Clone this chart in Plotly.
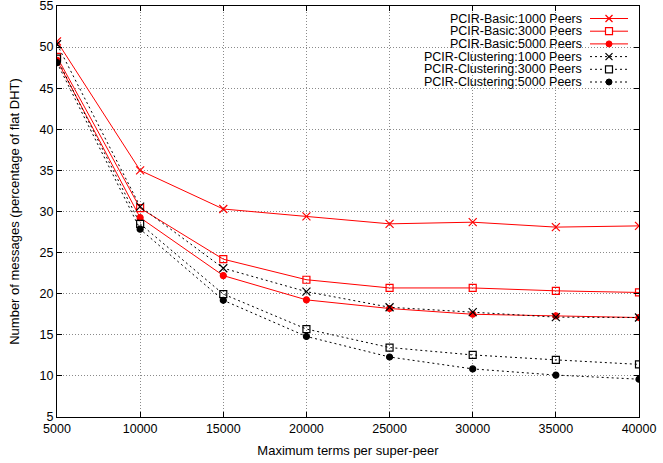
import plotly.graph_objects as go

x_terms = [5000, 10000, 15000, 20000, 25000, 30000, 35000, 40000]

basic_1000 = [50.7, 35.0, 30.3, 29.4, 28.5, 28.7, 28.1, 28.25]
basic_3000 = [48.8, 30.4, 24.2, 21.7, 20.7, 20.7, 20.35, 20.15]
basic_5000 = [48.4, 29.25, 22.2, 19.25, 18.2, 17.5, 17.3, 17.1]
clust_1000 = [50.35, 30.6, 23.1, 20.25, 18.35, 17.75, 17.15, 17.1]
clust_3000 = [48.6, 28.5, 19.95, 15.7, 13.45, 12.55, 11.95, 11.4]
clust_5000 = [48.1, 27.85, 19.2, 14.8, 12.3, 10.85, 10.1, 9.6]

series_names = [
    "PCIR-Basic:1000 Peers",
    "PCIR-Basic:3000 Peers",
    "PCIR-Basic:5000 Peers",
    "PCIR-Clustering:1000 Peers",
    "PCIR-Clustering:3000 Peers",
    "PCIR-Clustering:5000 Peers",
]
series_values = [basic_1000, basic_3000, basic_5000, clust_1000, clust_3000, clust_5000]
series_colors = ["#ff0000", "#ff0000", "#ff0000", "#000000", "#000000", "#000000"]
series_dash = ["solid", "solid", "solid", "2px,3px", "2px,3px", "2px,3px"]
series_symbol = ["x-thin-open", "square-open", "circle", "x-thin-open", "square-open", "circle"]
series_msize = [8, 7, 6, 8, 7, 6]

x_ticks = [5000, 10000, 15000, 20000, 25000, 30000, 35000, 40000]
y_ticks = [5, 10, 15, 20, 25, 30, 35, 40, 45, 50, 55]

FONT = "Liberation Sans, Arial, Helvetica, sans-serif"

fig = go.Figure()
for name, vals, col, dash, sym, ms in zip(series_names, series_values, series_colors,
                                          series_dash, series_symbol, series_msize):
    fig.add_trace(go.Scatter(
        x=x_terms, y=vals, name=name, mode="lines+markers",
        line=dict(color=col, width=1, dash=dash),
        marker=dict(symbol=sym, size=ms, color=col,
                    line=dict(color=col, width=1.2)),
        showlegend=False, hoverinfo="skip",
    ))

# plot area geometry in pixels (for the hand-drawn legend)
L, R, T, B = 57, 639, 6, 417
W, H = R - L, B - T

def px(xp):
    return (xp - L) / W

def py(yp):
    return (B - yp) / H

shapes = []
annotations = []
# white legend background hiding the grid
shapes.append(dict(type="rect", xref="paper", yref="paper", layer="between",
                   x0=px(383), x1=1, y0=py(89), y1=1,
                   fillcolor="white", line=dict(width=0)))

row_y = [18.5, 31.2, 43.9, 56.6, 69.3, 82.0]
for i, name in enumerate(series_names):
    yy = py(row_y[i])
    col = series_colors[i]
    annotations.append(dict(xref="paper", yref="paper", x=px(583), y=yy,
                            xanchor="right", yanchor="middle", showarrow=False,
                            borderpad=0,
                            text=name, font=dict(family=FONT, size=12.5, color="black")))
    shapes.append(dict(type="line", xref="paper", yref="paper",
                       x0=px(590), x1=px(628), y0=yy, y1=yy,
                       line=dict(color=col, width=1,
                                 dash="solid" if series_dash[i] == "solid" else "2px,3px")))
    sym = series_symbol[i]
    mx = px(609)
    if sym.startswith("x"):
        for s in (1, -1):
            shapes.append(dict(type="line", xref="paper", yref="paper",
                               xsizemode="pixel", ysizemode="pixel",
                               xanchor=mx, yanchor=yy,
                               x0=-3.5, x1=3.5, y0=-3.5 * s, y1=3.5 * s,
                               line=dict(color=col, width=1.2)))
    elif sym.startswith("square"):
        shapes.append(dict(type="rect", xref="paper", yref="paper",
                           xsizemode="pixel", ysizemode="pixel",
                           xanchor=mx, yanchor=yy,
                           x0=-3.5, x1=3.5, y0=-3.5, y1=3.5,
                           fillcolor="white", line=dict(color=col, width=1.2)))
    else:
        shapes.append(dict(type="circle", xref="paper", yref="paper",
                           xsizemode="pixel", ysizemode="pixel",
                           xanchor=mx, yanchor=yy,
                           x0=-3, x1=3, y0=-3, y1=3,
                           fillcolor=col, line=dict(color=col, width=1)))

axis_common = dict(
    showline=True, linecolor="black", linewidth=1, mirror="ticks",
    ticks="inside", ticklen=5, tickcolor="black", tickwidth=1,
    showgrid=True, gridcolor="#8a8a8a", gridwidth=1, griddash="1px,2px",
    zeroline=False, tickfont=dict(family=FONT, size=12.5, color="black"),
    ticklabeloverflow="allow", automargin=False,
)

fig.update_layout(
    width=663, height=463,
    margin=dict(l=L, r=663 - R, t=T, b=463 - B, autoexpand=False),
    paper_bgcolor="white", plot_bgcolor="white",
    font=dict(family=FONT, size=12, color="black"),
    xaxis=dict(range=[5000, 40000], tickvals=x_ticks,
               ticktext=[str(v) for v in x_ticks],
               title=dict(text="Maximum terms per super-peer",
                          font=dict(family=FONT, size=13), standoff=10),
               **axis_common),
    yaxis=dict(range=[5, 55], tickvals=y_ticks,
               ticktext=[str(v) for v in y_ticks],
               title=dict(text="Number of messages (percentage of flat DHT)",
                          font=dict(family=FONT, size=13), standoff=17),
               **axis_common),
    shapes=shapes,
    annotations=annotations,
    showlegend=False,
)

fig.write_html("out.html",
               config={"displayModeBar": False},
               post_script="document.body.style.margin='0';document.body.style.padding='0';")
